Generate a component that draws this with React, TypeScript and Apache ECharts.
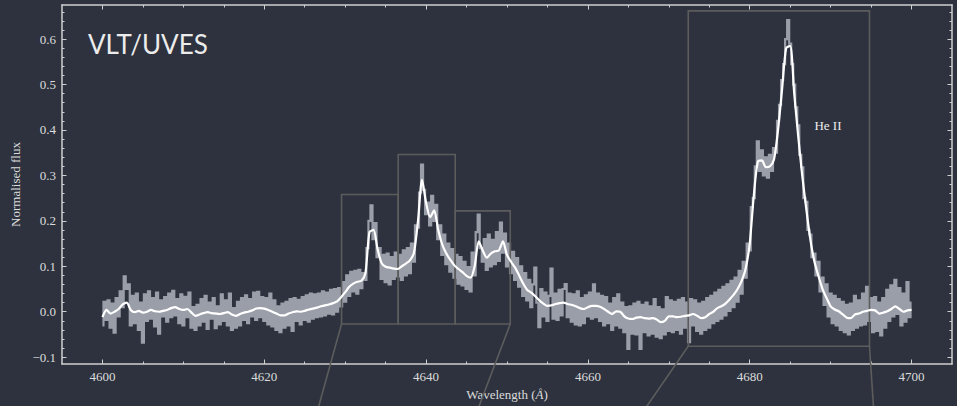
import React, { useEffect, useRef } from "react";
import * as echarts from "echarts";

// Spectrum sampling
const wavelengthStart = 4600;
const smoothStep = 0.5;
const rawStep = 0.25;

// Smoothed normalised flux, 4600–4700 Å every 0.5 Å
const smoothFlux: number[] = [
  -0.012, 0.004, -0.004, 0.0, 0.006, 0.016, 0.02, 0.004, -0.001, 0.002,
  -0.002, 0.0, 0.004, 0.001, 0.0, 0.002, 0.004, 0.008, 0.01, 0.006,
  0.004, 0.006, -0.002, -0.009, -0.006, -0.003, -0.001, -0.003, -0.004, -0.005,
  -0.003, -0.001, -0.006, -0.009, -0.005, -0.002, 0.0, 0.003, 0.007, 0.008,
  0.007, 0.004, 0.0, -0.004, -0.008, -0.008, -0.004, -0.001, 0.001, 0.0,
  0.002, 0.005, 0.007, 0.009, 0.012, 0.014, 0.016, 0.019, 0.023, 0.032,
  0.043, 0.055, 0.062, 0.066, 0.068, 0.085, 0.175, 0.18, 0.138, 0.107,
  0.099, 0.097, 0.095, 0.094, 0.1, 0.106, 0.113, 0.13, 0.2, 0.29,
  0.24, 0.208, 0.223, 0.18, 0.148, 0.128, 0.114, 0.102, 0.094, 0.087,
  0.079, 0.075, 0.1, 0.155, 0.135, 0.119, 0.128, 0.133, 0.135, 0.155,
  0.125, 0.11, 0.097, 0.08, 0.062, 0.048, 0.042, 0.034, 0.025, 0.018,
  0.013, 0.014, 0.017, 0.019, 0.02, 0.017, 0.015, 0.012, 0.008, 0.006,
  0.01, 0.013, 0.013, 0.011, 0.006, 0.0, -0.005, 0.001, 0.0, -0.01,
  -0.015, -0.016, -0.013, -0.012, -0.014, -0.015, -0.014, -0.017, -0.023, -0.02,
  -0.01, -0.01, -0.012, -0.011, -0.009, -0.008, -0.005, -0.009, -0.014, -0.012,
  -0.005, 0.0, 0.008, 0.012, 0.018, 0.027, 0.037, 0.05, 0.068, 0.095,
  0.15, 0.255, 0.33, 0.333, 0.318, 0.32, 0.335, 0.4, 0.49, 0.58,
  0.585, 0.48, 0.385, 0.298, 0.225, 0.158, 0.11, 0.078, 0.05, 0.03,
  0.012, 0.005, 0.001, -0.006, -0.013, -0.014, -0.006, -0.004, 0.0, 0.002,
  0.004, 0.003, -0.004, -0.002, 0.001, 0.006, 0.012, 0.006, 0.0, 0.003,
  0.004,
];

// Observed normalised flux, 4600–4700 Å every 0.25 Å
const rawFlux: number[] = [
  -0.03, 0.022, -0.018, 0.025, -0.035, 0.018, -0.046, 0.03, -0.01, 0.045, 0.01, 0.078, 0.05, 0.06, -0.03, 0.035, -0.025, 0.04, -0.04, 0.02,
  -0.068, 0.038, -0.02, 0.045, -0.015, 0.03, -0.032, 0.042, -0.048, 0.025, -0.01, 0.032, -0.022, 0.04, -0.012, 0.046, -0.008, 0.028, -0.025, 0.038,
  -0.03, 0.033, -0.012, 0.042, -0.035, 0.01, -0.04, 0.015, -0.03, 0.028, -0.022, 0.035, -0.038, 0.02, -0.015, 0.03, -0.036, 0.012, -0.028, 0.038,
  -0.02, 0.025, -0.03, 0.04, -0.04, 0.008, -0.035, 0.022, -0.03, 0.03, -0.018, 0.036, -0.025, 0.028, -0.01, 0.042, -0.018, 0.044, -0.012, 0.032,
  -0.02, 0.03, -0.028, 0.04, -0.032, 0.025, -0.04, 0.012, -0.045, 0.018, -0.035, 0.022, -0.03, 0.028, -0.042, 0.03, -0.02, 0.026, -0.028, 0.032,
  -0.018, 0.036, -0.022, 0.04, -0.015, 0.038, -0.012, 0.04, -0.01, 0.045, -0.008, 0.042, -0.004, 0.048, -0.006, 0.05, 0.0, 0.052, 0.012, 0.065,
  0.022, 0.08, 0.035, 0.088, 0.045, 0.09, 0.04, 0.092, 0.052, 0.085, 0.07, 0.14, 0.2, 0.234, 0.16, 0.195, 0.12, 0.14, 0.072, 0.125,
  0.065, 0.128, 0.06, 0.12, 0.072, 0.13, 0.078, 0.125, 0.07, 0.135, 0.08, 0.14, 0.085, 0.15, 0.11, 0.19, 0.185, 0.262, 0.324, 0.268,
  0.215, 0.24, 0.19, 0.255, 0.2, 0.235, 0.16, 0.19, 0.125, 0.17, 0.105, 0.15, 0.088, 0.138, 0.075, 0.125, 0.062, 0.12, 0.058, 0.11,
  0.05, 0.098, 0.045, 0.13, 0.08, 0.175, 0.214, 0.14, 0.11, 0.16, 0.092, 0.17, 0.1, 0.158, 0.105, 0.175, 0.112, 0.196, 0.13, 0.172,
  0.1, 0.15, 0.085, 0.132, 0.07, 0.118, 0.055, 0.1, 0.035, 0.085, 0.025, 0.07, 0.01, 0.06, 0.097, 0.02, -0.034, 0.05, -0.01, 0.042,
  -0.02, 0.035, 0.095, -0.015, 0.04, -0.018, 0.048, -0.008, 0.05, 0.061, -0.012, 0.04, -0.022, 0.038, -0.028, 0.045, -0.03, 0.03, -0.025, 0.036,
  -0.01, 0.042, -0.015, 0.06, -0.012, 0.04, -0.02, 0.035, -0.03, 0.032, -0.025, 0.018, -0.04, 0.03, -0.03, 0.038, -0.035, 0.02, -0.045, 0.01,
  -0.082, 0.012, -0.048, 0.018, -0.05, 0.022, -0.082, 0.015, -0.045, 0.02, -0.052, 0.012, -0.048, 0.028, -0.055, 0.01, -0.058, 0.005, -0.05, 0.032,
  -0.042, 0.025, -0.045, 0.022, -0.04, 0.026, -0.048, 0.03, -0.035, 0.02, -0.067, 0.028, -0.03, 0.025, -0.042, 0.018, -0.048, 0.022, -0.04, 0.03,
  -0.035, 0.035, -0.025, 0.042, -0.02, 0.048, -0.015, 0.055, -0.008, 0.06, 0.002, 0.068, 0.01, 0.075, 0.022, 0.09, 0.04, 0.11, 0.075, 0.15,
  0.135, 0.23, 0.25, 0.32, 0.375, 0.31, 0.355, 0.3, 0.34, 0.295, 0.345, 0.31, 0.36, 0.35, 0.42, 0.455, 0.51, 0.545, 0.6, 0.642,
  0.59, 0.545, 0.5, 0.45, 0.41, 0.345, 0.318, 0.25, 0.242, 0.18, 0.17, 0.12, 0.128, 0.08, 0.11, 0.045, 0.075, 0.015, 0.06, -0.01,
  0.04, -0.025, 0.035, -0.03, 0.028, -0.04, 0.022, -0.045, 0.015, -0.05, 0.018, -0.04, 0.035, -0.035, 0.025, -0.03, 0.04, -0.028, 0.055, -0.02,
  0.03, -0.045, 0.032, -0.042, 0.02, -0.052, 0.03, -0.035, 0.048, -0.02, 0.058, -0.01, 0.07, -0.005, 0.052, -0.03, 0.04, -0.022, 0.065, -0.012,
  0.02,
];

// Axis ranges and ticks
const xRange = [4595, 4705];
const yRange = [-0.115, 0.675];
const xMajorTicks = [4600, 4620, 4640, 4660, 4680, 4700];
const xMinorTicks = [4605, 4610, 4615, 4625, 4630, 4635, 4645, 4650, 4655, 4665, 4670, 4675, 4685, 4690, 4695];
const yMajorTicks = [-0.1, 0, 0.1, 0.2, 0.3, 0.4, 0.5, 0.6];
const yMinorTicks = [
  -0.08, -0.06, -0.04, -0.02, 0.02, 0.04, 0.06, 0.08, 0.12, 0.14, 0.16, 0.18,
  0.22, 0.24, 0.26, 0.28, 0.32, 0.34, 0.36, 0.38, 0.42, 0.44, 0.46, 0.48,
  0.52, 0.54, 0.56, 0.58, 0.62, 0.64, 0.66,
];

// Zoom windows: [λmin, λmax, fluxMin, fluxMax]
const zoomBoxes: number[][] = [
  [4629.55, 4636.55, -0.027, 0.258],
  [4636.55, 4643.6, -0.027, 0.346],
  [4643.6, 4650.4, -0.027, 0.222],
  [4672.4, 4694.8, -0.076, 0.662],
];

// Connectors from the zoom windows towards the insets below: [λ0, f0, λ1, f1]
const zoomConnectors: number[][] = [
  [4629.55, -0.027, 4626.7, -0.21],
  [4650.4, -0.027, 4646.5, -0.21],
  [4672.4, -0.076, 4667.2, -0.21],
  [4694.8, -0.076, 4695.3, -0.21],
];

const lineLabels = [{ text: "He II", wavelength: 4688.0, flux: 0.41 }];

const SERIF = "'Liberation Serif', 'DejaVu Serif', serif";
const BG = "#2d323e";
const FG = "#dcdcdc";
const SPINE = "#cfcfcf";
const BOX = "#5c5c5c";

export default function App() {
  const ref = useRef<HTMLDivElement>(null);

  useEffect(() => {
    if (!ref.current) return;
    const chart = echarts.init(ref.current, null, { renderer: "svg" });

    const rawData = rawFlux.map((f, i) => [wavelengthStart + i * rawStep, f]);
    const smoothData = smoothFlux.map((f, i) => [wavelengthStart + i * smoothStep, f]);

    const tickStyle = { color: SPINE, width: 1 };
    const lineStyle = { color: SPINE, width: 1.5 };

    const xAxis = (position: string, values: number[], len: number, major: boolean, labels: boolean) => ({
      type: "value",
      gridIndex: 0,
      position,
      min: xRange[0],
      max: xRange[1],
      axisLine: { show: major, onZero: false, lineStyle },
      axisTick: { show: true, inside: true, length: len, customValues: values, lineStyle: tickStyle },
      axisLabel: labels
        ? {
            show: true,
            customValues: values,
            color: FG,
            fontFamily: SERIF,
            fontSize: 13,
            margin: 6,
            formatter: (v: number) => String(Math.round(v)),
          }
        : { show: false },
      splitLine: { show: false },
      ...(labels
        ? {
            name: "Wavelength ({i|Å})",
            nameLocation: "middle",
            nameGap: 24,
            nameTextStyle: {
              color: FG,
              fontFamily: SERIF,
              fontSize: 13,
              rich: { i: { fontStyle: "italic", fontFamily: SERIF, fontSize: 13, color: FG } },
            },
          }
        : {}),
    });

    const yAxis = (position: string, values: number[], len: number, major: boolean, labels: boolean) => ({
      type: "value",
      gridIndex: 0,
      position,
      min: yRange[0],
      max: yRange[1],
      axisLine: { show: major, onZero: false, lineStyle },
      axisTick: { show: true, inside: true, length: len, customValues: values, lineStyle: tickStyle },
      axisLabel: labels
        ? {
            show: true,
            customValues: values,
            color: FG,
            fontFamily: SERIF,
            fontSize: 13,
            margin: 6,
            formatter: (v: number) => v.toFixed(1).replace("-", "\u2212"),
          }
        : { show: false },
      splitLine: { show: false },
      ...(labels
        ? {
            name: "Normalised flux",
            nameLocation: "middle",
            nameGap: 38,
            nameTextStyle: { color: FG, fontFamily: SERIF, fontSize: 13 },
          }
        : {}),
    });

    chart.setOption({
      animation: false,
      backgroundColor: BG,
      grid: { left: 62, right: 5, top: 5, bottom: 40, containLabel: false },
      xAxis: [
        xAxis("bottom", xMajorTicks, 4.5, true, true),
        xAxis("bottom", xMinorTicks, 2.5, false, false),
        xAxis("top", xMajorTicks, 4.5, true, false),
        xAxis("top", xMinorTicks, 2.5, false, false),
      ],
      yAxis: [
        yAxis("left", yMajorTicks, 4.5, true, true),
        yAxis("left", yMinorTicks, 2.5, false, false),
        yAxis("right", yMajorTicks, 4.5, true, false),
        yAxis("right", yMinorTicks, 2.5, false, false),
      ],
      graphic: [
        {
          type: "text",
          left: 88,
          top: 31,
          style: { text: "VLT/UVES", fill: "#ececec", font: "26px Lato, 'Open Sans', sans-serif" },
        },
      ],
      series: [
        {
          type: "line",
          name: "observed",
          xAxisIndex: 0,
          yAxisIndex: 0,
          data: rawData,
          step: "middle",
          showSymbol: false,
          symbol: "none",
          z: 2,
          lineStyle: { color: "#9a9ea8", width: 2.2, join: "miter" },
        },
        {
          type: "custom",
          name: "zoom windows",
          xAxisIndex: 0,
          yAxisIndex: 0,
          clip: false,
          silent: true,
          z: 3,
          data: [[4650, 0.3]],
          renderItem: (_params: any, api: any) => {
            const children: any[] = [];
            zoomBoxes.forEach(([x0, x1, y0, y1]) => {
              const a = api.coord([x0, y1]);
              const b = api.coord([x1, y0]);
              children.push({
                type: "rect",
                shape: { x: a[0], y: a[1], width: b[0] - a[0], height: b[1] - a[1] },
                style: { fill: "none", stroke: BOX, lineWidth: 1.6 },
              });
            });
            zoomConnectors.forEach(([x0, y0, x1, y1]) => {
              const a = api.coord([x0, y0]);
              const b = api.coord([x1, y1]);
              children.push({
                type: "line",
                shape: { x1: a[0], y1: a[1], x2: b[0], y2: b[1] },
                style: { stroke: BOX, lineWidth: 1.6 },
              });
            });
            lineLabels.forEach((l) => {
              const p = api.coord([l.wavelength, l.flux]);
              children.push({
                type: "text",
                x: p[0],
                y: p[1],
                style: {
                  text: l.text,
                  fill: "#ececec",
                  font: `13px ${SERIF}`,
                  align: "left",
                  verticalAlign: "middle",
                },
              });
            });
            return { type: "group", children };
          },
        },
        {
          type: "line",
          name: "smoothed",
          xAxisIndex: 0,
          yAxisIndex: 0,
          data: smoothData,
          smooth: 0.25,
          showSymbol: false,
          symbol: "none",
          z: 4,
          lineStyle: { color: "#ffffff", width: 2.2 },
        },
      ],
    });

    return () => chart.dispose();
  }, []);

  return (
    <div
      ref={ref}
      style={{ position: "absolute", left: 0, top: 0, width: 957, height: 406, background: BG }}
    />
  );
}
